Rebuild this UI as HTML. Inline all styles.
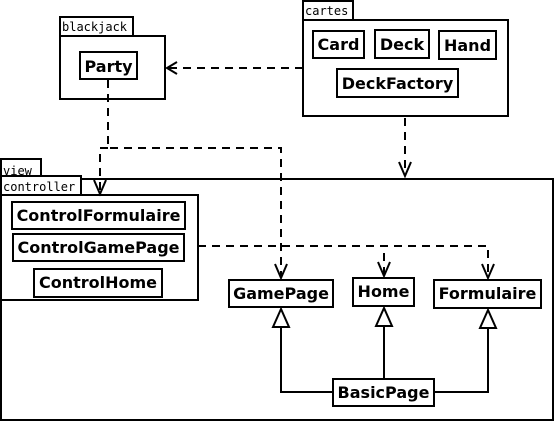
<!DOCTYPE html>
<html><head><style>
body{margin:0;background:#fff;}
text.b{font-family:"DejaVu Sans","Liberation Sans",sans-serif;font-weight:bold;font-size:16px;}
text.m{font-family:"DejaVu Sans Mono","Liberation Mono",monospace;font-size:12px;}
</style></head><body>
<svg width="555" height="426" xmlns="http://www.w3.org/2000/svg">
<g fill="#fff" stroke="#000" stroke-width="2">
<rect x="60" y="17" width="73" height="19"/>
<rect x="60" y="36" width="105" height="63"/>
<rect x="80" y="52" width="57" height="27"/>
<rect x="303" y="1" width="50" height="19"/>
<rect x="303" y="20" width="205" height="96"/>
<rect x="313" y="31" width="51" height="27"/>
<rect x="375" y="30" width="54" height="28"/>
<rect x="439" y="31" width="57" height="28"/>
<rect x="337" y="69" width="121" height="28"/>
<rect x="1" y="159" width="40" height="19"/>
<rect x="1" y="179" width="552" height="241"/>
<rect x="1" y="176" width="80" height="19"/>
<rect x="1" y="195" width="197" height="105"/>
<rect x="12" y="202" width="173" height="27"/>
<rect x="13" y="234" width="171" height="27"/>
<rect x="34" y="269" width="128" height="28"/>
<rect x="229" y="280" width="104" height="27"/>
<rect x="353" y="278" width="61" height="28"/>
<rect x="434" y="280" width="107" height="28"/>
<rect x="333" y="379" width="101" height="27"/>
</g>
<g fill="none" stroke="#000" stroke-width="2" stroke-dasharray="8,6">
<line x1="303" y1="68" x2="168" y2="68"/>
<line x1="405" y1="118" x2="405" y2="175"/>
<polyline points="108,80 108,148 281,148 281,276"/>
<polyline points="108,148 100,148 100,192"/>
<polyline points="198,246 488,246 488,276"/>
<line x1="384" y1="253" x2="384" y2="274"/>
</g>
<g fill="none" stroke="#000" stroke-width="2">
<polyline points="177,62 167,68 177,74"/>
<polyline points="399,162 405,176 411,162"/>
<polyline points="94,180 100,194 106,180"/>
<polyline points="275,264 281,278 287,264"/>
<polyline points="378,262 384,276 390,262"/>
<polyline points="482,264 488,278 494,264"/>
<polyline points="333,392 281,392 281,327"/>
<line x1="384" y1="379" x2="384" y2="326"/>
<polyline points="434,392 488,392 488,327"/>
</g>
<g fill="#fff" stroke="#000" stroke-width="2">
<polygon points="281,309 273,327 289,327"/>
<polygon points="384,308 376,326 392,326"/>
<polygon points="488,310 480,328 496,328"/>
</g>
<text class="m" x="62" y="31">blackjack</text>
<text class="m" x="305" y="15">cartes</text>
<text class="m" x="3" y="175">view</text>
<text class="m" x="3" y="191">controller</text>
<g text-anchor="middle">
<text class="b" x="108.5" y="72">Party</text>
<text class="b" x="338.5" y="50">Card</text>
<text class="b" x="402" y="50">Deck</text>
<text class="b" x="467.5" y="51">Hand</text>
<text class="b" x="397.5" y="89">DeckFactory</text>
<text class="b" x="98.5" y="221">ControlFormulaire</text>
<text class="b" x="98.5" y="253">ControlGamePage</text>
<text class="b" x="98" y="288">ControlHome</text>
<text class="b" x="281" y="299">GamePage</text>
<text class="b" x="383.5" y="297">Home</text>
<text class="b" x="487.5" y="299">Formulaire</text>
<text class="b" x="383.5" y="398">BasicPage</text>
</g>
</svg>
</body></html>
